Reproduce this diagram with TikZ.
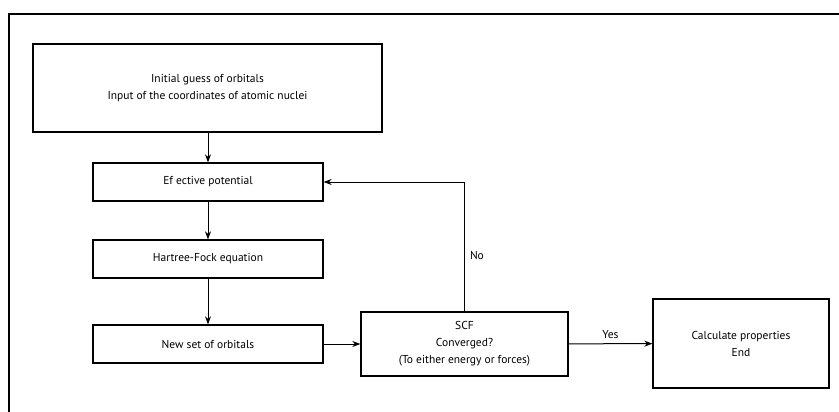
\documentclass[tikz,border=0pt]{standalone}
\usepackage{fontspec}
\setmainfont{PT Sans}
\usetikzlibrary{arrows.meta}
\begin{document}
\begin{tikzpicture}[x=1pt,y=-1pt,
  box/.style={draw, line width=1.3pt, inner sep=0pt, font=\fontsize{11.5}{17}\selectfont, align=center},
  flow/.style={line width=1pt, -{Stealth[length=8pt,width=6pt,inset=2.5pt]}},
  lbl/.style={font=\fontsize{11.5}{14}\selectfont, inner sep=0pt}]
\useasboundingbox (0,0) rectangle (839,412);
% outer frame
\draw[line width=2.5pt] (9,412) -- (9,14) -- (839,14);
% boxes
\node[box, minimum width=349pt, minimum height=88pt] (init) at (207.5,88)
  {Initial guess of orbitals\\Input of the coordinates of atomic nuclei};
\node[box, minimum width=230pt, minimum height=38pt] (eff) at (208,182) {Ef ective potential};
\node[box, minimum width=230pt, minimum height=38pt] (hf) at (208,259) {Hartree-Fock equation};
\node[box, minimum width=230pt, minimum height=38pt] (new) at (208,344) {New set of orbitals};
\node[box, minimum width=207pt, minimum height=64pt] (scf) at (464.5,344)
  {SCF\\Converged?\\(To either energy or forces)};
\node[box, minimum width=176pt, minimum height=89pt] (calc) at (741,343.5)
  {Calculate properties\\End};
% connectors
\draw[flow] (init.south -| eff.north) -- (eff.north);
\draw[flow] (eff) -- (hf);
\draw[flow] (hf) -- (new);
\draw[flow] (new) -- (scf);
\draw[flow] (scf) -- node[lbl, above=5pt] {Yes} (calc);
\coordinate (turn) at (scf.north |- eff.east);
\draw[flow] (scf.north) -- node[lbl, right=5pt, pos=0.43] {No} (turn) -- (eff.east);
\end{tikzpicture}
\end{document}
